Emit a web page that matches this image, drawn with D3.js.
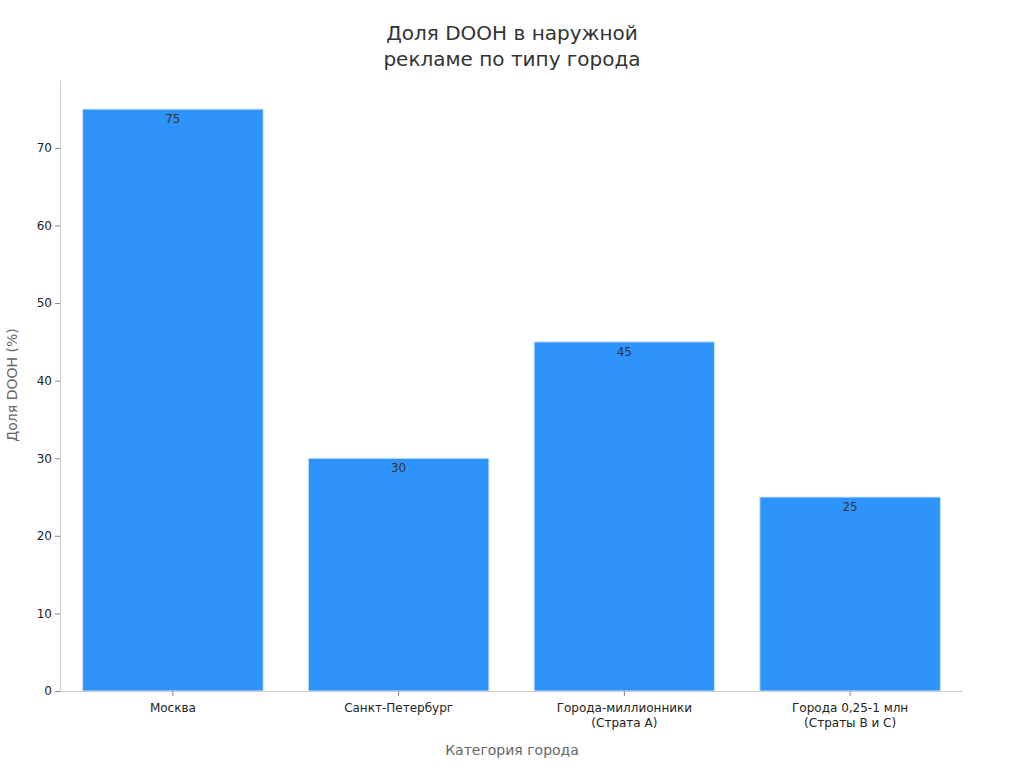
<!DOCTYPE html>
<html><head><meta charset="utf-8">
<script src="https://cdn.jsdelivr.net/npm/d3@7"></script>
<style>body{margin:0;background:#fff;font-family:"DejaVu Sans",sans-serif}</style>
</head><body><svg id="c" width="1024" height="768"></svg>
<script>
const categories = [["Москва"],["Санкт-Петербург"],["Города-миллионники","(Страта А)"],["Города 0,25-1 млн","(Страты В и С)"]];
const values = [75,30,45,25];
const yTicks = [0,10,20,30,40,50,60,70];

const svg = d3.select("#c");
const m = {l:60,r:963,t:80,b:691};
const x = d3.scaleBand().domain(d3.range(values.length)).range([m.l,m.r]).paddingInner(0.2).paddingOuter(0.1);
const y = d3.scaleLinear().domain([0,78.75]).range([m.b,m.t]);

svg.append("text").attr("x",512).attr("y",40).attr("text-anchor","middle").attr("font-size",20).attr("fill","#333").text("Доля DOOH в наружной");
svg.append("text").attr("x",512).attr("y",66).attr("text-anchor","middle").attr("font-size",20).attr("fill","#333").text("рекламе по типу города");

svg.selectAll("rect.bar").data(values).join("rect").attr("class","bar")
 .attr("x",(d,i)=>x(i)).attr("width",x.bandwidth()).attr("y",d=>y(d)).attr("height",d=>y(0)-y(d))
 .attr("fill","#2e93fa").attr("stroke","#cfe4fb").attr("stroke-width",1);
svg.selectAll("text.lab").data(values).join("text").attr("class","lab")
 .attr("x",(d,i)=>x(i)+x.bandwidth()/2).attr("y",d=>y(d)+14).attr("text-anchor","middle")
 .attr("font-size",12).attr("fill","#333").text(d=>d);

const ya = svg.append("g").attr("transform",`translate(${m.l},0)`).call(d3.axisLeft(y).tickValues(yTicks).tickSize(5).tickSizeOuter(0));
ya.select(".domain").attr("stroke","#ccc");
ya.selectAll(".tick line").attr("stroke","#888");
ya.selectAll("text").attr("font-size",12).attr("fill","#222").attr("font-family","DejaVu Sans");
const xa = svg.append("g").attr("transform",`translate(0,${m.b})`).call(d3.axisBottom(x).tickSize(5).tickSizeOuter(0).tickFormat(""));
xa.select(".domain").attr("stroke","#ccc").attr("d",`M${m.l},0.5H${m.r}`);
xa.selectAll(".tick line").attr("stroke","#888");
xa.selectAll(".tick").each(function(d){
  const t=d3.select(this).append("text").attr("fill","#222").attr("font-size",12).attr("text-anchor","middle").attr("font-family","DejaVu Sans");
  categories[d].forEach((s,k)=>t.append("tspan").attr("x",0).attr("y",21+k*15).text(s));
});
svg.append("text").attr("x",512).attr("y",755).attr("text-anchor","middle").attr("font-size",14).attr("fill","#666").text("Категория города");
svg.append("text").attr("transform","translate(17,385) rotate(-90)").attr("text-anchor","middle").attr("font-size",14).attr("fill","#666").text("Доля DOOH (%)");
</script></body></html>
